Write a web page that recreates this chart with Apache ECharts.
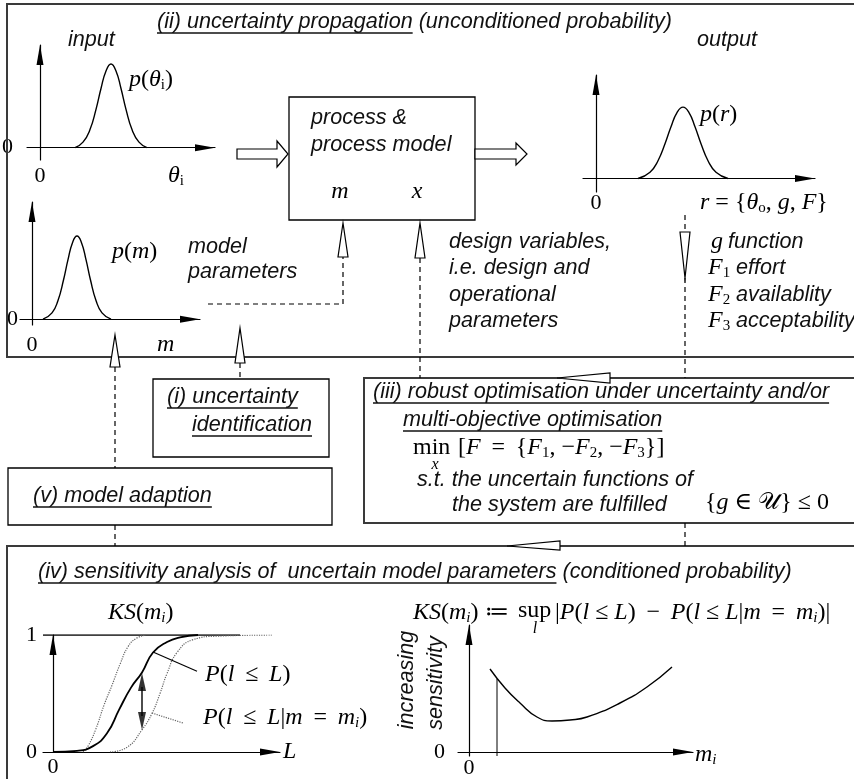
<!DOCTYPE html>
<html><head><meta charset="utf-8">
<script src="https://cdn.jsdelivr.net/npm/echarts@6/dist/echarts.min.js"></script>
<style>html,body{margin:0;padding:0;background:#fff}#c{width:854px;height:779px}</style>
</head><body><div id="c"></div>
<script>
// ---------------- data ----------------
// input density p(theta_i)
const inputX = [3.5, 4.3, 5.0, 5.6, 6.1, 6.6, 7.1, 7.6, 8.1, 8.6, 9.2, 9.9, 10.7];
const inputP = [0, 0.054, 0.176, 0.373, 0.576, 0.747, 0.815, 0.747, 0.576, 0.373, 0.176, 0.054, 0];
// output density p(r)
const outputX = [4.2, 5.4, 6.2, 6.9, 7.5, 8.1, 8.7, 9.3, 9.9, 10.5, 11.2, 12.0, 13.2];
const outputP = [0, 0.061, 0.172, 0.336, 0.50, 0.637, 0.69, 0.637, 0.50, 0.336, 0.172, 0.061, 0];
// model parameter density p(m)
const paramX = [1.1, 2.0, 2.6, 3.15, 3.6, 4.05, 4.5, 4.95, 5.4, 5.85, 6.4, 7.0, 7.9];
const paramP = [0, 0.054, 0.16, 0.334, 0.508, 0.653, 0.71, 0.653, 0.508, 0.334, 0.16, 0.054, 0];
// CDFs
const cdfL = [0, 2.4, 4.0, 5.4, 6.6, 7.8, 8.9, 10.0, 11.4, 12.7, 14.5];
const cdfP = [0, 0.01, 0.05, 0.16, 0.36, 0.55, 0.68, 0.85, 0.94, 0.98, 1.0];
const cdfLeftL = [3.0, 3.5, 4.3, 5.1, 5.9, 6.7, 7.5, 8.3, 9.3];
const cdfLeftP = [0, 0.05, 0.20, 0.40, 0.57, 0.75, 0.90, 0.97, 1.0];
const cdfRightL = [5.7, 7.4, 8.9, 9.9, 10.7, 11.4, 12.4, 14.0, 16.4, 21.9];
const cdfRightP = [0, 0.04, 0.19, 0.33, 0.50, 0.67, 0.85, 0.96, 0.99, 1.0];
const oneLineL = [-1.0, 18.7];
const oneLineP = [1, 1];
const leaderSolidL = [10.0, 14.4];
const leaderSolidP = [0.855, 0.69];
const leaderDotL = [9.9, 13.0];
const leaderDotP = [0.333, 0.248];
const ksArrowL = 8.9;
const ksArrowP = [0.675, 0.188];
// sensitivity KS(m_i)
const sensM = [2.1, 3.6, 5.1, 6.8, 8.3, 10.1, 11.8, 15.1, 17.8, 20.3];
const sensKS = [0.83, 0.64, 0.49, 0.35, 0.31, 0.32, 0.35, 0.49, 0.65, 0.85];
const sensDropM = [2.8, 2.8];
const sensDropKS = [-0.04, 0.73];
// tick labels
const zeroTick = [0];
const unitTicks = [0, 1];

// ---------------- helpers ----------------
const SANS = '"Liberation Sans", Arial, sans-serif';
const SERIF = '"Liberation Serif", "DejaVu Serif", "DejaVu Sans", serif';
const SF = 'italic 21.6px ' + SANS;
const MS = 24;
const T = '\u2009';
const zip = (a, b) => a.map((v, i) => [v, b[i]]);
const ctx = document.createElement('canvas').getContext('2d');
function tw(t, f) { ctx.font = f; return ctx.measureText(t).width; }

const grids = [
  {left: 27, top: 45, width: 188, height: 115},
  {left: 583, top: 75, width: 232, height: 117},
  {left: 20, top: 202, width: 180, height: 123},
  {left: 43, top: 635, width: 237, height: 117},
  {left: 458, top: 625, width: 235, height: 131}
].map(g => Object.assign({outerBoundsMode: 'none', containLabel: false, show: false}, g));

const xAxes = [], yAxes = [];
function axes(i, xr, yr, xl, yl, xm, ym) {
  const line = {onZero: true, symbol: ['none', 'triangle'], symbolSize: [7, 20], symbolOffset: [0, -10],
    lineStyle: {color: '#000', width: 1.2}};
  const lab = (vals, m) => vals ? {show: true, customValues: vals, margin: m, fontFamily: SERIF, fontSize: 22, color: '#000'} : {show: false};
  xAxes.push({type: 'value', gridIndex: i, min: xr[0], max: xr[1], axisLine: line, axisTick: {show: false}, splitLine: {show: false}, axisLabel: lab(xl, xm)});
  yAxes.push({type: 'value', gridIndex: i, min: yr[0], max: yr[1], axisLine: line, axisTick: {show: false}, splitLine: {show: false}, axisLabel: lab(yl, ym)});
}
axes(0, [-1.3, 17.5], [-0.12, 1], zeroTick, zeroTick, 5, 14);
axes(1, [-1.3, 21.9], [-0.13, 1], zeroTick, null, 0, 0);
axes(2, [-1.2, 16.8], [-0.05, 1], zeroTick, zeroTick, 9, 2);
axes(3, [-1.0, 22.7], [0, 1], zeroTick, unitTicks, 4, 6);
axes(4, [-1.1, 22.4], [-0.04, 1.27], zeroTick, zeroTick, 1, 13);

function line(i, data, opt) {
  return Object.assign({type: 'line', xAxisIndex: i, yAxisIndex: i, data, symbol: 'none', smooth: true,
    lineStyle: {color: '#000', width: 1.4}, silent: true, z: 3}, opt || {});
}
const dotted = {lineStyle: {color: '#666', width: 1.2, type: 'dotted'}};
const series = [
  line(0, zip(inputX, inputP)),
  line(1, zip(outputX, outputP)),
  line(2, zip(paramX, paramP)),
  line(3, zip(oneLineL, oneLineP), {smooth: false, lineStyle: {color: '#000', width: 1.3}}),
  line(3, zip(cdfLeftL, cdfLeftP), dotted),
  line(3, zip(cdfRightL, cdfRightP), dotted),
  line(3, zip(cdfL, cdfP), {lineStyle: {color: '#000', width: 1.8}}),
  line(3, zip(leaderSolidL, leaderSolidP), {smooth: false, lineStyle: {color: '#000', width: 1.2}}),
  line(3, zip(leaderDotL, leaderDotP), Object.assign({smooth: false}, dotted)),
  line(3, [[ksArrowL, ksArrowP[0] - 0.12], [ksArrowL, ksArrowP[1] + 0.12]], {smooth: false, lineStyle: {color: '#000', width: 1.4}}),
  {type: 'scatter', xAxisIndex: 3, yAxisIndex: 3, silent: true, z: 4, symbol: 'triangle', symbolSize: [8, 18],
    itemStyle: {color: '#000'},
    data: [{value: [ksArrowL, ksArrowP[0] - 0.077], symbolRotate: 0}, {value: [ksArrowL, ksArrowP[1] + 0.077], symbolRotate: 180}]},
  line(4, zip(sensM, sensKS)),
  line(4, zip(sensDropM, sensDropKS), {smooth: false, lineStyle: {color: '#000', width: 1}})
];

// ---------------- diagram graphics ----------------
const G = [];
function sans(x, y, text, ul) {
  G.push({type: 'text', x, y, silent: true, z: 10, style: {text, font: SF, fill: '#111', align: 'left', verticalAlign: 'middle'}});
  const w = tw(text, SF);
  if (ul) G.push({type: 'line', silent: true, z: 10, shape: {x1: x, y1: y + 11, x2: x + w, y2: y + 11}, style: {stroke: '#111', lineWidth: 1.3}});
  return x + w;
}
const RICH = {
  i: {fontFamily: SERIF, fontStyle: 'italic', fontSize: MS, lineHeight: 26},
  s: {fontFamily: SERIF, fontSize: 15, lineHeight: 12, verticalAlign: 'bottom'},
  si: {fontFamily: SERIF, fontStyle: 'italic', fontSize: 15, lineHeight: 12, verticalAlign: 'bottom'}
};
function math(x, y, text, align, size, italic) {
  G.push({type: 'text', x, y, silent: true, z: 10, style: {text, fontFamily: SERIF, fontSize: size || MS, fontStyle: italic ? 'italic' : 'normal',
    lineHeight: 26, fill: '#000', align: align || 'left', verticalAlign: 'middle', rich: RICH}});
}
function poly(points, style, closed) {
  G.push({type: closed ? 'polygon' : 'polyline', silent: true, z: closed ? 8 : 6, shape: {points},
    style: Object.assign({fill: closed ? '#fff' : null, stroke: '#000', lineWidth: 1.2}, style || {})});
}
function rect(x, y, w, h) {
  G.push({type: 'rect', silent: true, z: 5, shape: {x, y, width: w, height: h}, style: {fill: null, stroke: '#000', lineWidth: 1.3}});
}
const frame = {stroke: '#3a3a3a', lineWidth: 2};
const dash = {lineDash: [5, 4], lineWidth: 1.2};

// frames
poly([[854, 4], [7, 4], [7, 357], [854, 357]], frame);
poly([[854, 378], [364, 378], [364, 523], [854, 523]], frame);
poly([[854, 546], [7, 546], [7, 779]], frame);
rect(289, 97, 186, 123);
rect(153, 379, 176, 78);
rect(8, 468, 324, 57);

// dashed connectors
poly([[115, 367], [115, 468]], dash);
poly([[115, 525], [115, 546]], dash);
poly([[240, 363], [240, 379]], dash);
poly([[208, 304], [343, 304], [343, 257]], dash);
poly([[420, 258], [420, 378]], dash);
poly([[685, 215], [685, 232]], dash);
poly([[685, 278], [685, 378]], dash);
poly([[685, 523], [685, 546]], dash);

// block arrows
poly([[237, 149], [277, 149], [277, 141], [288, 154], [277, 167], [277, 159], [237, 159]], null, true);
poly([[475, 149], [516, 149], [516, 143], [527, 154], [516, 165], [516, 159], [475, 159]], null, true);
// thin open arrowheads
poly([[115, 335], [120, 367], [110, 367]], null, true);
poly([[240, 328], [245, 363], [235, 363]], null, true);
poly([[343, 223], [348, 257], [338, 257]], null, true);
poly([[420, 223], [425, 258], [415, 258]], null, true);
poly([[680, 232], [690, 232], [685, 278]], null, true);
poly([[557, 378], [610, 373], [610, 383]], null, true);
poly([[507, 546], [560, 541], [560, 550]], null, true);

// texts: top block
let e = sans(157, 22, '(ii) uncertainty propagation', true);
sans(e + 6, 22, '(unconditioned probability)');
sans(68, 40, 'input');
sans(697, 40, 'output');
sans(311, 118, 'process &');
sans(311, 145, 'process model');
math(340, 192, '{i|m}', 'center');
math(417, 192, '{i|x}', 'center');
math(129, 80, '{i|p}({i|θ}{s|i})');
math(700, 115, '{i|p}({i|r})');
math(112, 252, '{i|p}({i|m})');
math(168, 176, '{i|θ}{s|i}');
math(157, 345, '{i|m}');
math(700, 203, '{i|r} = {{i|θ}{s|o}, {i|g}, {i|F}}');
sans(188, 247, 'model');
sans(188, 272, 'parameters');
sans(449, 242, 'design variables,');
sans(449, 268, 'i.e. design and');
sans(449, 295, 'operational');
sans(449, 321, 'parameters');
math(711, 242, '{i|g}');
sans(728, 242, 'function');
math(708, 268, '{i|F}{s|1}');
sans(736, 268, 'effort');
math(708, 295, '{i|F}{s|2}');
sans(736, 295, 'availablity');
math(708, 321, '{i|F}{s|3}');
sans(736, 321, 'acceptability');

// middle boxes
sans(167, 397, '(i) uncertainty', true);
sans(192, 425, 'identification', true);
sans(33, 496, '(v) model adaption', true);
sans(373, 392, '(iii) robust optimisation under uncertainty and/or', true);
sans(403, 420, 'multi-objective optimisation', true);
math(413, 448, 'min');
math(435, 465, 'x', 'center', 16, true);
math(458, 448, '[{i|F}' + T + ' = ' + T + '{{i|F}{s|1}, −{i|F}{s|2}, −{i|F}{s|3}}]');
sans(417, 480, 's.t. the uncertain functions of');
sans(452, 505, 'the system are fulfilled');
math(705, 503, '{{i|g} ∈ 𝒰} ≤ 0');

// bottom block
e = sans(38, 572, '(iv) sensitivity analysis of  uncertain model parameters', true);
sans(e + 6, 572, '(conditioned probability)');
math(108, 613, '{i|KS}({i|m}{si|i})');
math(205, 675, '{i|P}({i|l}' + T + ' ≤ ' + T + '{i|L})');
math(203, 718, '{i|P}({i|l}' + T + ' ≤ ' + T + '{i|L}|{i|m}' + T + ' = ' + T + '{i|m}{si|i})');
math(283, 752, '{i|L}');
math(695, 755, '{i|m}{si|i}');
math(413, 613, '{i|KS}({i|m}{si|i}) ≔');
math(518, 611, 'sup');
math(535, 629, 'l', 'center', 16, true);
math(555, 613, '|{i|P}({i|l} ≤ {i|L})' + T + ' − ' + T + '{i|P}({i|l} ≤ {i|L}|{i|m}' + T + ' = ' + T + '{i|m}{si|i})|');
G.push({type: 'text', x: 407, y: 680, rotation: Math.PI / 2, silent: true, z: 10, style: {text: 'increasing', font: SF, fill: '#111', align: 'center', verticalAlign: 'middle'}});
G.push({type: 'text', x: 436, y: 683, rotation: Math.PI / 2, silent: true, z: 10, style: {text: 'sensitivity', font: SF, fill: '#111', align: 'center', verticalAlign: 'middle'}});

const chart = echarts.init(document.getElementById('c'), null, {renderer: 'canvas', width: 854, height: 779});
chart.setOption({
  animation: false,
  backgroundColor: '#fff',
  grid: grids,
  xAxis: xAxes,
  yAxis: yAxes,
  series,
  graphic: {elements: G}
});
</script>
</body></html>
